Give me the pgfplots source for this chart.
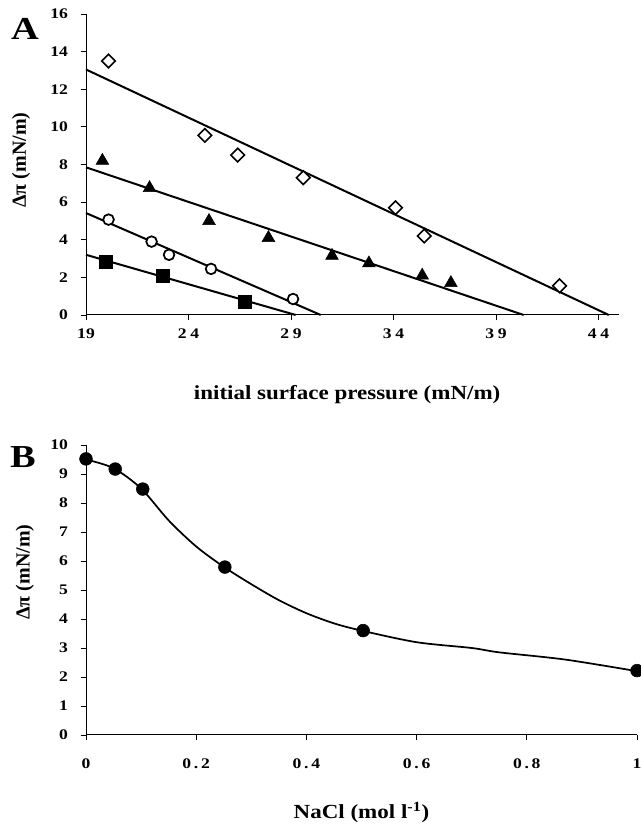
\documentclass[border=0pt]{standalone}
\usepackage{fontspec}
\setmainfont{Liberation Serif}
\usepackage{graphicx}
\usepackage{pgfplots}
\pgfplotsset{compat=1.18}
\newcommand\sx[1]{\scalebox{1.2}[1]{#1}}
\newcommand\lx[1]{\scalebox{1.15}[1]{#1}}
\newcommand\gap{\hspace{2.3pt}}
\newcommand\dgap{\hspace{1.7pt}}

\pgfplotsset{
  panel/.style={
    scale only axis, clip=false,
    axis lines=left, axis line style={-, line width=0.75pt},
    tick align=outside, major tick length=4pt,
    tick style={line width=0.6pt, black},
    ticklabel style={font=\fontsize{11}{12}\bfseries},
    yticklabel style={xshift=-6pt},
    /pgf/number format/assume math mode=true,
    label style={font=\fontsize{15}{17}\bfseries},
    yticklabel={\sx{\pgfmathprintnumber{\tick}}},
  },
  fit/.style={no marks, line width=1.5pt, black},
}

\begin{document}
\begin{tikzpicture}
\useasboundingbox (0,0) rectangle (480pt,620.25pt);

% panel A
\begin{axis}[panel,
  at={(64.5pt,384pt)}, anchor=south west,
  width=399.75pt, height=225.75pt,
  xmin=19, xmax=45, ymin=0, ymax=16,
  xtick={19,24,29,34,39,44},
  xticklabels={\sx{19},\sx{2\gap4},\sx{2\gap9},\sx{3\gap4},\sx{3\gap9},\sx{4\gap4}},
  xticklabel style={yshift=-3pt},
  ytick={0,2,...,16},
  xlabel={\lx{initial surface pressure (mN/m)}},
  xlabel style={at={(axis description cs:0.49,-0.266)}, anchor=center},
  ylabel={Δπ (mN/m)},
  ylabel style={at={(axis description cs:-0.122,0.515)}, anchor=center},
]
\addplot[fit] coordinates {(19,13.05) (44.5,0)};
\addplot[fit] coordinates {(19,7.85) (40.35,0)};
\addplot[fit] coordinates {(19,5.42) (30.45,0)};
\addplot[fit] coordinates {(19,3.2) (29.23,0)};

\addplot[only marks, mark=square*, mark size=3.6pt,
  mark options={rotate=45, fill=white, draw=black, line width=1.2pt}]
  coordinates {(20.1,13.5) (24.8,9.55) (26.4,8.5) (29.6,7.3) (34.1,5.7) (35.5,4.2) (42.1,1.55)};
\addplot[only marks, mark=triangle*, mark size=5.5pt,
  mark options={fill=black, draw=black, line width=0.4pt}]
  coordinates {(19.8,8.2) (22.1,6.75) (25.0,5.0) (27.9,4.1) (31.0,3.15) (32.8,2.75) (35.4,2.1) (36.8,1.7)};
\addplot[only marks, mark=*, mark size=4.0pt,
  mark options={fill=white, draw=black, line width=1.3pt}]
  coordinates {(20.1,5.07) (22.2,3.9) (23.05,3.2) (25.1,2.45) (29.1,0.85)};
\addplot[only marks, mark=square*, mark size=5.0pt,
  mark options={fill=black, draw=black, line width=0.4pt}]
  coordinates {(19.97,2.83) (22.75,2.08) (26.75,0.72)};
\end{axis}

% panel B
\begin{axis}[panel,
  at={(64.5pt,69pt)}, anchor=south west,
  width=413.25pt, height=217.5pt,
  xmin=0, xmax=1, ymin=0, ymax=10,
  xtick={0,0.2,0.4,0.6,0.8,1},
  xticklabels={\sx{0},\sx{0\dgap.\dgap2},\sx{0\dgap.\dgap4},\sx{0\dgap.\dgap6},\sx{0\dgap.\dgap8},\sx{1}},
  xticklabel style={yshift=-10pt},
  ytick={0,1,...,10},
  xlabel={\lx{NaCl (mol l\textsuperscript{-1})}},
  xlabel style={at={(axis description cs:0.5,-0.266)}, anchor=center},
  ylabel={Δπ (mN/m)},
  ylabel style={at={(axis description cs:-0.111,0.562)}, anchor=center},
]
\addplot[smooth, no marks, line width=1.3pt, black]
  coordinates {(0,9.5) (0.05,9.2) (0.1,8.5) (0.15,7.4) (0.2,6.5) (0.25,5.8)
    (0.3,5.2) (0.35,4.65) (0.4,4.2) (0.45,3.85) (0.5,3.6) (0.6,3.2)
    (0.7,3.0) (0.75,2.85) (0.87,2.6) (1.0,2.2)};
\addplot[only marks, mark=*, mark size=4.8pt, mark options={fill=black, draw=black}]
  coordinates {(0,9.52) (0.053,9.17) (0.103,8.48) (0.252,5.79) (0.503,3.6) (1.0,2.22)};
\end{axis}

\node[font=\fontsize{24}{26}\bfseries] at (18.75pt,598.5pt) {\scalebox{1.2}[1]{A}};
\node[font=\fontsize{24}{26}\bfseries] at (17.25pt,277.5pt) {\scalebox{1.2}[1]{B}};
\end{tikzpicture}
\end{document}
